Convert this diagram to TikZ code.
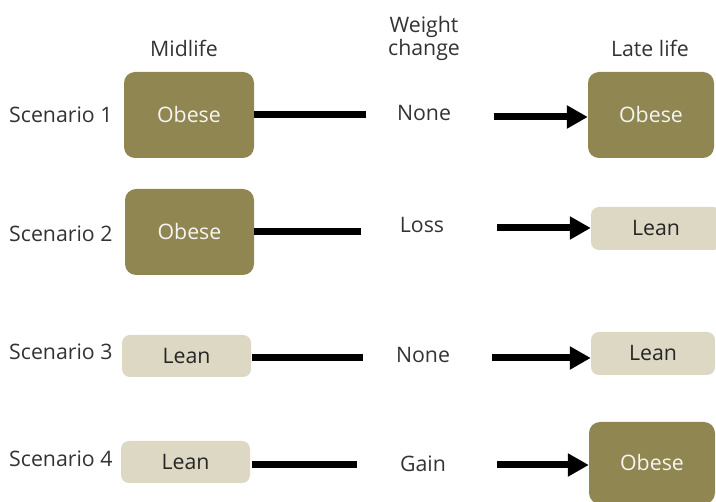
\documentclass[tikz,border=0pt]{standalone}
\usepackage{fontspec}
\setmainfont{Open Sans}
\usetikzlibrary{arrows.meta}
\definecolor{olive}{HTML}{8F8651}
\definecolor{leanc}{HTML}{DCD8C3}
\definecolor{txt}{HTML}{333333}
\begin{document}
\begin{tikzpicture}[x=1pt,y=-1pt,
  every node/.style={font=\fontsize{21.3}{23}\selectfont, text=txt, inner sep=0pt},
  obesebox/.style={fill=olive, rounded corners=11pt, text=white!92!olive},
  leanbox/.style={fill=leanc, rounded corners=8pt, text=black!85},
  lbl/.style={anchor=base west},
  hdr/.style={anchor=base, align=center},
  link/.style={line width=7pt, draw=black},
  arr/.style={line width=7pt, draw=black, -{Triangle[length=21pt,width=22pt]}}
]
\useasboundingbox (0,0) rectangle (716,502);
\begin{scope}
\clip (0,0) rectangle (716,502);
% headers
\node[hdr] (hmid) at (184,57) {Midlife};
\node[hdr] (hw1) at (424,33) {Weight};
\node[hdr] (hw2) at (424,56) {change};
\node[hdr] (hlate) at (650,57) {Late life};
% scenario labels
\node[lbl] (s1) at (9,123) {Scenario 1};
\node[lbl] (s2) at (9,242) {Scenario 2};
\node[lbl] (s3) at (9,360) {Scenario 3};
\node[lbl] (s4) at (9,467) {Scenario 4};
% midlife boxes
\node[obesebox, minimum width=130pt, minimum height=86pt] (m1) at (189,115) {Obese};
\node[obesebox, minimum width=129pt, minimum height=86pt] (m2) at (189.5,232) {Obese};
\node[leanbox, minimum width=129pt, minimum height=42pt] (m3) at (186.5,356) {Lean};
\node[leanbox, minimum width=129pt, minimum height=42pt] (m4) at (185.5,462) {Lean};
% late life boxes
\node[obesebox, minimum width=126pt, minimum height=86pt] (l1) at (651,115) {Obese};
\node[leanbox, minimum width=130pt, minimum height=43pt] (l2) at (656,228.5) {Lean};
\node[leanbox, minimum width=124pt, minimum height=43pt] (l3) at (653,353.5) {Lean};
\node[obesebox, minimum width=126pt, minimum height=82pt] (l4) at (652,463) {Obese};
% change labels
\node (c1) at (424,113) {None};
\node (c2) at (422,225) {Loss};
\node (c3) at (423,355) {None};
\node (c4) at (423,464) {Gain};
% free ends
\coordinate (e1) at (366,115);
\coordinate (e2) at (361,232);
\coordinate (e3) at (363,358);
\coordinate (e4) at (357,465);
\coordinate (b1) at (494,117);
\coordinate (b2) at (497,228);
\coordinate (b3) at (492,358);
\coordinate (b4) at (497,465);
% connectors
\draw[link] (m1.east |- e1) -- (e1);
\draw[link] (m2.east |- e2) -- (e2);
\draw[link] ([xshift=1pt]m3.east |- e3) -- (e3);
\draw[link] ([xshift=2pt]m4.east |- e4) -- (e4);
\draw[arr] (b1) -- (l1.west |- b1);
\draw[arr] (b2) -- (l2.west |- b2);
\draw[arr] (b3) -- (l3.west |- b3);
\draw[arr] (b4) -- (l4.west |- b4);
\end{scope}
\end{tikzpicture}
\end{document}
